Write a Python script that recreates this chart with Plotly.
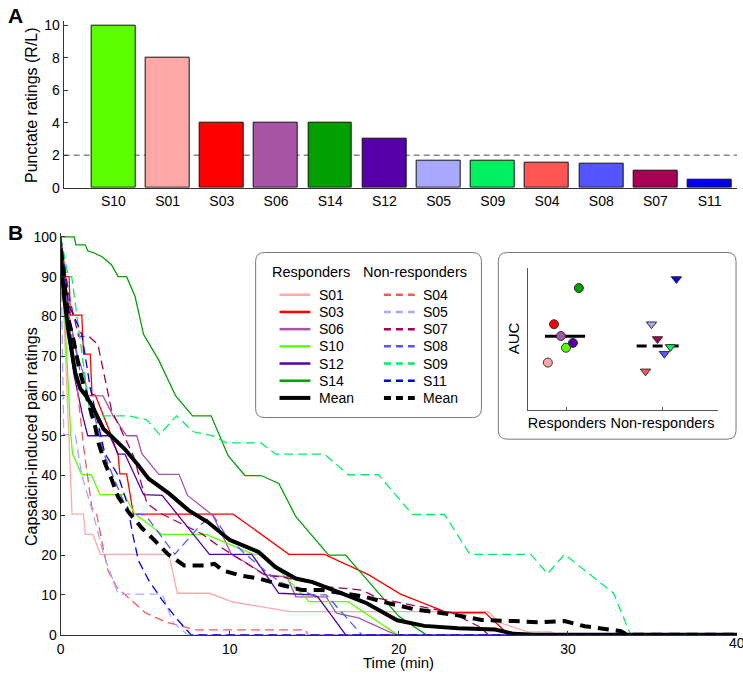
import plotly.graph_objects as go

W, H = 743, 678
def X(p): return p / W
def Y(p): return 1 - p / H

# ---------------- Data ----------------
bar_subjects = ["S10", "S01", "S03", "S06", "S14", "S12", "S05", "S09", "S04", "S08", "S07", "S11"]
bar_values = [10, 8, 4, 4, 4, 3, 1.65, 1.65, 1.55, 1.5, 1.03, 0.5]
threshold = 2

responders = ["S01", "S03", "S06", "S10", "S12", "S14"]
nonresponders = ["S04", "S05", "S07", "S08", "S09", "S11"]

time_ticks = [0, 10, 20, 30, 40]

t_S01 = [0, 0.6, 0.67, 1.35, 1.45, 1.9, 2.35, 6.4, 6.9, 8.8, 10.2, 11.9, 13.6, 25.3, 25.9, 27.6, 29.0, 29.3, 40]
v_S01 = [100, 35, 30.3, 30.3, 25.2, 25.2, 20.2, 20.2, 10.4, 10.4, 8.2, 7, 5.8, 5.8, 3.1, 0.7, 0.7, 0, 0]
t_S03 = [0, 0.3, 0.5, 0.57, 1.25, 1.35, 1.75, 1.85, 2.05, 3.0, 3.4, 3.5, 3.9, 4.3, 10.2, 13.5, 15.6, 18.2, 20.1, 22.9, 25.1, 26.5, 40]
v_S03 = [100, 90, 90, 80.3, 80.3, 70.5, 70.5, 60.5, 60.2, 50, 45, 40.4, 40.4, 30.3, 30.3, 20.2, 20.2, 15.1, 10.2, 5.5, 5.5, 0, 0]
t_S06 = [0, 0.5, 1.0, 1.4, 1.6, 2.5, 3.1, 3.9, 4.5, 4.8, 5.8, 7.0, 7.5, 9.0, 10.1, 11.0, 12.1, 13.4, 13.9, 15.7, 16.3, 17.6, 19.8, 40]
v_S06 = [100, 80, 70, 65, 60, 60, 55, 50, 50, 45.5, 40.3, 40.3, 35, 30, 20.2, 18, 15, 14.5, 9.5, 9.5, 5.4, 4.2, 0, 0]
t_S10 = [0, 0.6, 0.7, 1.25, 1.8, 2.33, 3.75, 4.4, 6.0, 8.6, 11.4, 12.0, 14.7, 17.0, 19.9, 40]
v_S10 = [100, 50, 45.4, 40.2, 40.2, 35.2, 35.2, 30.3, 25.2, 25.2, 20.2, 20.2, 8.3, 8.3, 0, 0]
t_S12 = [0, 0.3, 0.8, 1.3, 1.6, 2.9, 3.4, 3.8, 4.9, 6.0, 8.8, 11.3, 12.9, 14.9, 15.2, 16.85, 40]
v_S12 = [100, 80, 65, 55, 50, 50, 45.4, 45.4, 35.2, 35, 20.2, 20.2, 10.4, 10, 9.5, 0, 0]
t_S14 = [0, 0.8, 0.9, 1.45, 1.6, 1.95, 2.45, 3.0, 3.4, 3.9, 4.4, 4.9, 5.8, 6.8, 7.8, 8.9, 9.9, 10.9, 11.85, 12.9, 13.9, 15.85, 16.85, 20.0, 21.6, 40]
v_S14 = [100, 100, 98, 98, 96.5, 96, 95, 93, 90, 90, 85, 75.5, 69, 60, 55, 55, 45, 40, 40, 38, 29.7, 20, 20, 4.6, 0, 0]

t_S04 = [0, 0.5, 1.0, 1.35, 1.84, 2.14, 2.43, 2.8, 3.3, 5.0, 6.2, 8.0, 14.5, 14.6, 40]
v_S04 = [100, 80, 60, 47.4, 32, 30.1, 23.5, 16.1, 12, 5.5, 3.2, 1.2, 1.2, 0, 0]
t_S05 = [0, 0.18, 0.86, 1.25, 1.94, 2.53, 3.4, 6.0, 6.65, 7.5, 40]
v_S05 = [100, 50.3, 50.3, 40, 30.1, 20.2, 10.2, 10.2, 3, 0, 0]
t_S07 = [0, 0.5, 1.06, 1.65, 2.2, 2.8, 3.0, 4.3, 5.1, 5.9, 8.4, 9.2, 12.1, 13.1, 15.9, 17.8, 18.8, 20.7, 23.1, 24.7, 25.3, 40]
v_S07 = [100, 85, 75, 75, 73, 60.5, 56.5, 45, 33, 30.5, 25.2, 22.7, 14.9, 14.5, 12, 11.2, 9.1, 7.5, 5.6, 2.1, 0, 0]
t_S08 = [0, 0.5, 1.2, 2.0, 2.6, 4.0, 5.0, 6.75, 8.3, 9.0, 9.8, 10.8, 12.3, 13.0, 14.9, 15.7, 17.8, 40]
v_S08 = [100, 80, 65, 55, 45, 30.5, 30.1, 20.2, 27.7, 30.1, 24.8, 20.7, 15.3, 13.2, 10, 10, 0, 0]
t_S09 = [0, 0.45, 0.65, 1.75, 4.0, 5.1, 5.85, 6.85, 7.85, 9.0, 9.8, 11.85, 12.7, 15.6, 17.0, 18.8, 20.8, 22.7, 24.2, 27.8, 28.8, 29.8, 32.7, 33.7, 40]
v_S09 = [100, 90, 90, 55, 55, 54, 50.3, 55, 51, 50, 48.2, 48.2, 45.4, 45.4, 40.2, 40.2, 30.2, 30.2, 20.2, 20.2, 15.3, 20.2, 10.4, 0, 0]
t_S11 = [0, 0.47, 1.0, 1.25, 1.75, 2.6, 3.4, 3.9, 4.3, 4.6, 5.2, 6.0, 6.9, 7.7, 40]
v_S11 = [100, 83, 78, 75.4, 62, 45.7, 40, 33.4, 24.4, 18.6, 13.7, 8.7, 3.8, 0, 0]

t_mean_resp = [0, 0.18, 0.47, 0.86, 1.16, 1.5, 1.84, 2.24, 2.53, 3.0, 3.8, 4.6, 5.2, 6.4, 7.55, 8.7, 10.0, 11.7, 12.7, 13.9, 14.9, 16.85, 18.1, 19.9, 21.5, 23.5, 25.7, 26.8, 28, 40]
v_mean_resp = [96.4, 85.7, 75.8, 65.9, 61.8, 60, 57.7, 54.4, 51.7, 49.9, 46.6, 42.5, 39.2, 35.5, 31.3, 28.3, 23.8, 20.8, 17, 14.1, 13.2, 10, 7.9, 3.6, 2.2, 1.6, 1.3, 0.2, 0, 0]
t_mean_nonresp = [0, 0.47, 0.76, 1.06, 1.4, 1.75, 2.04, 2.24, 2.6, 3.0, 3.4, 4.0, 4.8, 5.6, 6.35, 7.3, 8.5, 9.1, 9.6, 10.6, 11.75, 13.1, 14.3, 15.5, 16.6, 18.0, 19.4, 21.0, 23.3, 24.9, 26.8, 28.4, 29.8, 31.0, 33.1, 33.5, 40]
v_mean_nonresp = [97, 79, 74, 67.6, 62, 57, 52.3, 48.2, 43.3, 39.2, 34.6, 30.9, 26.8, 23.5, 20.2, 17.4, 17.4, 17.8, 16.1, 14.9, 14.1, 12.4, 11.2, 11.2, 10.4, 9.5, 7.9, 6.3, 5, 3.7, 3.4, 3.1, 3.4, 2.1, 0.9, 0, 0]

# AUC (arbitrary units) for the inset
auc_resp = [3.33, 6.04, 5.21, 4.38, 4.72, 8.6]          # S01 S03 S06 S10 S12 S14
auc_nonresp = [2.71, 6.04, 5.0, 3.96, 4.44, 9.24]       # S04 S05 S07 S08 S09 S11
auc_mean_resp = 5.2
auc_mean_nonresp = 4.5
inset_groups = ["Responders", "Non-responders"]

series = {
    "S01": (t_S01, v_S01), "S03": (t_S03, v_S03), "S06": (t_S06, v_S06),
    "S10": (t_S10, v_S10), "S12": (t_S12, v_S12), "S14": (t_S14, v_S14),
    "S04": (t_S04, v_S04), "S05": (t_S05, v_S05), "S07": (t_S07, v_S07),
    "S08": (t_S08, v_S08), "S09": (t_S09, v_S09), "S11": (t_S11, v_S11),
}

# ---------------- Styles ----------------
colors = {
    "S01": "#FFA8A8", "S03": "#FF0000", "S06": "#A855A8", "S10": "#5CFF00",
    "S12": "#5500A8", "S14": "#00A000", "S04": "#FF5555", "S05": "#A8A8FF",
    "S07": "#A80055", "S08": "#5555FF", "S09": "#00F060", "S11": "#0000F0",
}
jit_resp = [-0.2, -0.135, -0.063, -0.01, 0.063, 0.125]
jit_nonresp = [-0.177, -0.115, -0.052, 0.02, 0.083, 0.146]
FONT = "Liberation Sans, Arial, sans-serif"
AX = "#333333"
THIN_DASH = "9px,5px"
THICK_DASH = "11px,7px"

fig = go.Figure()

# ---- Panel A bars ----
fig.add_trace(go.Bar(
    x=list(range(len(bar_subjects))), y=bar_values, width=0.81,
    marker=dict(color=[colors[s] for s in bar_subjects], line=dict(color="#111", width=1)),
    xaxis="x", yaxis="y", showlegend=False, hoverinfo="skip"))

# ---- Panel B lines ----
for s in responders + nonresponders:
    t, v = series[s]
    dash = "solid" if s in responders else THIN_DASH
    fig.add_trace(go.Scatter(x=t, y=v, mode="lines", xaxis="x2", yaxis="y2",
                             line=dict(color=colors[s], width=1.3, dash=dash),
                             showlegend=False, hoverinfo="skip"))
fig.add_trace(go.Scatter(x=t_mean_nonresp, y=v_mean_nonresp, mode="lines", xaxis="x2", yaxis="y2",
                         line=dict(color="black", width=4, dash=THICK_DASH), showlegend=False))
fig.add_trace(go.Scatter(x=t_mean_resp, y=v_mean_resp, mode="lines", xaxis="x2", yaxis="y2",
                         line=dict(color="black", width=4), showlegend=False))

# ---- Inset ----
fig.add_trace(go.Scatter(x=[0.77, 1.19], y=[auc_mean_resp] * 2, mode="lines", xaxis="x3", yaxis="y3",
                         line=dict(color="black", width=3), showlegend=False))
fig.add_trace(go.Scatter(x=[1.73, 2.17], y=[auc_mean_nonresp] * 2, mode="lines", xaxis="x3", yaxis="y3",
                         line=dict(color="black", width=3, dash="10px,6px"), showlegend=False))
fig.add_trace(go.Scatter(x=[1 + j for j in jit_resp], y=auc_resp, mode="markers", xaxis="x3", yaxis="y3",
                         marker=dict(symbol="circle", size=9, color=[colors[s] for s in responders],
                                     line=dict(color="#333", width=1)), showlegend=False))
fig.add_trace(go.Scatter(x=[2 + j for j in jit_nonresp], y=auc_nonresp, mode="markers", xaxis="x3", yaxis="y3",
                         marker=dict(symbol="triangle-down", size=9, color=[colors[s] for s in nonresponders],
                                     line=dict(color="#333", width=1)), showlegend=False))

# ---------------- Shapes ----------------
def rounded_box(x0, y0, x1, y1, r):
    return (f"M {X(x0+r)},{Y(y0)} L {X(x1-r)},{Y(y0)} Q {X(x1)},{Y(y0)} {X(x1)},{Y(y0+r)} "
            f"L {X(x1)},{Y(y1-r)} Q {X(x1)},{Y(y1)} {X(x1-r)},{Y(y1)} "
            f"L {X(x0+r)},{Y(y1)} Q {X(x0)},{Y(y1)} {X(x0)},{Y(y1-r)} "
            f"L {X(x0)},{Y(y0+r)} Q {X(x0)},{Y(y0)} {X(x0+r)},{Y(y0)} Z")

shapes = [
    dict(type="line", xref="paper", yref="y", x0=X(60), x1=X(737), y0=threshold, y1=threshold,
         line=dict(color="#888", width=1.5, dash="6px,4px"), layer="below"),
    dict(type="path", xref="paper", yref="paper", path=rounded_box(253, 253, 480, 421, 9),
         line=dict(color="#777", width=1), fillcolor="white", layer="below"),
    dict(type="path", xref="paper", yref="paper", path=rounded_box(497, 253, 736, 443, 9),
         line=dict(color="#777", width=1), fillcolor="white", layer="below"),
]
annotations = []

# Legend content
row_y = [296, 313.5, 331, 348.5, 366, 383.5, 401]
for i, s in enumerate(responders + ["Mean"]):
    col = "black" if s == "Mean" else colors[s]
    w = 4 if s == "Mean" else 2.5
    shapes.append(dict(type="line", xref="paper", yref="paper", x0=X(277), x1=X(308),
                       y0=Y(row_y[i]), y1=Y(row_y[i]), line=dict(color=col, width=w)))
    annotations.append(dict(x=X(315), y=Y(row_y[i]), xref="paper", yref="paper", text=s,
                            showarrow=False, xanchor="left", yanchor="middle",
                            font=dict(size=14, color="black", family=FONT)))
for i, s in enumerate(nonresponders + ["Mean"]):
    col = "black" if s == "Mean" else colors[s]
    w = 4 if s == "Mean" else 2.5
    shapes.append(dict(type="line", xref="paper", yref="paper", x0=X(382), x1=X(413),
                       y0=Y(row_y[i]), y1=Y(row_y[i]), line=dict(color=col, width=w, dash="7px,5px")))
    annotations.append(dict(x=X(419), y=Y(row_y[i]), xref="paper", yref="paper", text=s,
                            showarrow=False, xanchor="left", yanchor="middle",
                            font=dict(size=14, color="black", family=FONT)))
annotations.append(dict(x=X(267), y=Y(273), xref="paper", yref="paper", text="Responders",
                        showarrow=False, xanchor="left", yanchor="middle",
                        font=dict(size=14.5, color="black", family=FONT)))
annotations.append(dict(x=X(359), y=Y(273), xref="paper", yref="paper", text="Non-responders",
                        showarrow=False, xanchor="left", yanchor="middle",
                        font=dict(size=14.5, color="black", family=FONT)))

# Titles and panel labels
annotations += [
    dict(x=X(2), y=Y(12), xref="paper", yref="paper", text="<b>A</b>", showarrow=False,
         xanchor="left", yanchor="middle", font=dict(size=21, color="black", family=FONT)),
    dict(x=X(2), y=Y(233), xref="paper", yref="paper", text="<b>B</b>", showarrow=False,
         xanchor="left", yanchor="middle", font=dict(size=21, color="black", family=FONT)),
    dict(x=X(27), y=Y(103), xref="paper", yref="paper", text="Punctate ratings (R/L)", showarrow=False,
         textangle=-90, xanchor="center", yanchor="middle", font=dict(size=16, color="black", family=FONT)),
    dict(x=X(27), y=Y(440), xref="paper", yref="paper", text="Capsaicin-induced pain ratings", showarrow=False,
         textangle=-90, xanchor="center", yanchor="middle", font=dict(size=16, color="black", family=FONT)),
    dict(x=X(397), y=Y(670), xref="paper", yref="paper", text="Time (min)", showarrow=False,
         xanchor="center", yanchor="middle", font=dict(size=15, color="black", family=FONT)),
    dict(x=X(513), y=Y(340), xref="paper", yref="paper", text="AUC", showarrow=False,
         textangle=-90, xanchor="center", yanchor="middle", font=dict(size=15, color="black", family=FONT)),
    # last time tick label, partly cut by the right edge as in the original
    dict(x=X(737), y=Y(651), xref="paper", yref="paper", text=str(time_ticks[-1]), showarrow=False,
         xanchor="center", yanchor="middle", font=dict(size=14, color="black", family=FONT)),
]

tickfont = dict(size=14, color="black", family=FONT)
fig.update_layout(
    width=W, height=H, margin=dict(l=0, r=0, t=0, b=0),
    paper_bgcolor="white", plot_bgcolor="rgba(0,0,0,0)",
    font=dict(family=FONT, color="black"),
    showlegend=False, bargap=0,
    shapes=shapes, annotations=annotations,
    xaxis=dict(domain=[X(60), X(737)], range=[-0.917, 11.505], tickvals=list(range(len(bar_subjects))),
               ticktext=bar_subjects, showline=True, linecolor=AX, linewidth=1.2, ticks="",
               showgrid=False, zeroline=False, tickfont=tickfont, anchor="y"),
    yaxis=dict(domain=[Y(187), Y(17)], range=[0, 10.3], tickvals=[0, 2, 4, 6, 8, 10],
               showline=True, linecolor=AX, linewidth=1.2, ticks="inside", ticklen=4, tickcolor=AX,
               showgrid=False, zeroline=False, tickfont=tickfont, anchor="x"),
    xaxis2=dict(domain=[X(57), X(737)], range=[0, 40], tickvals=time_ticks[:-1],
                showline=True, linecolor=AX, linewidth=1.2, ticks="inside", ticklen=4, tickcolor=AX,
                ticklabelstandoff=1,
                showgrid=False, zeroline=False, tickfont=tickfont, anchor="y2"),
    yaxis2=dict(domain=[Y(642), Y(233)], range=[0, 101], tickvals=list(range(0, 101, 10)),
                showline=True, linecolor=AX, linewidth=1.2, ticks="inside", ticklen=4, tickcolor=AX,
                showgrid=False, zeroline=False, tickfont=tickfont, anchor="x2"),
    xaxis3=dict(domain=[X(527), X(718)], range=[0.594, 2.583], tickvals=[1, 2], ticktext=inset_groups,
                showline=True, linecolor="#555", linewidth=1, ticks="inside", ticklen=3, tickcolor="#555",
                showgrid=False, zeroline=False, tickfont=dict(size=14.5, color="black", family=FONT), anchor="y3"),
    yaxis3=dict(domain=[Y(413), Y(269)], range=[0, 10], showticklabels=False, ticks="",
                showline=True, linecolor="#555", linewidth=1, showgrid=False, zeroline=False, anchor="x3"),
)

fig.write_html("out.html", config={"displayModeBar": False},
               post_script="document.body.style.margin='0';document.body.style.padding='0';")
